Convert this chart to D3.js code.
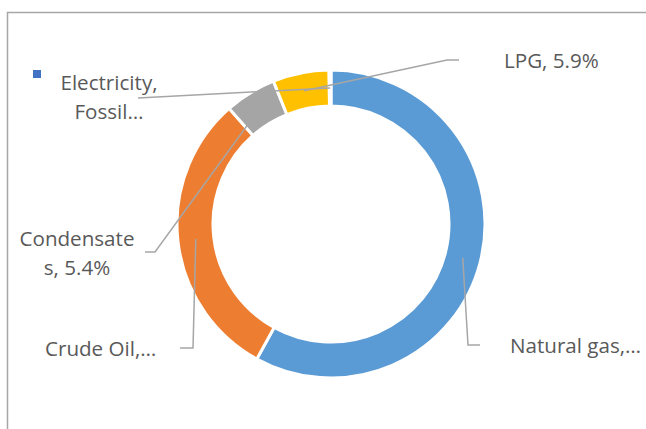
<!DOCTYPE html>
<html>
<head>
<meta charset="utf-8">
<script src="https://cdn.jsdelivr.net/npm/d3@7"></script>
<style>
  html, body { margin: 0; padding: 0; background: #fff; }
  svg { display: block; }
  text { font-family: "Open Sans", "Noto Sans", sans-serif; font-size: 20.6px; fill: #595959; }
</style>
</head>
<body>
<svg id="chart" width="646" height="429"></svg>
<script>
// ---- data ----
const categories = ["Natural gas", "Crude Oil", "Condensates", "LPG", "Electricity, Fossil"];
const shares = [58.0, 30.5, 5.4, 5.9, 0.2];
const colors = ["#5B9BD5", "#ED7D31", "#A5A5A5", "#FFC000", "#4472C4"];
const labelLines = [
  ["Natural gas,\u2026"],
  ["Crude Oil,\u2026"],
  ["Condensate", "s, 5.4%"],
  ["LPG, 5.9%"],
  ["Electricity,", "Fossil\u2026"]
];

// ---- layout (label placement, as in the reference) ----
const layout = [
  { x: 510, y: 353, anchor: "start", path: [[480, 345], [468, 345]] },
  { x: 45,  y: 356, anchor: "start", path: [[180, 348], [193, 348]] },
  { x: 77,  y: 246, anchor: "middle", path: [[145, 252], [155, 252]] },
  { x: 504, y: 68,  anchor: "start", path: [[459, 60], [447, 60]] },
  { x: 109, y: 90,  anchor: "middle", path: [[138, 98]], key: [33, 70] }
];
const lineGap = 29;

const svg = d3.select("#chart");
const cx = 331, cy = 224, rOuter = 154, rInner = 118;

// chart border (left + top visible)
svg.append("path")
  .attr("d", "M7.5,429 L7.5,12.5 L646,12.5")
  .attr("fill", "none").attr("stroke", "#A6A6A6").attr("stroke-width", 1.5);

const pie = d3.pie().sort(null).value(d => d)(shares);
const arc = d3.arc().innerRadius(rInner).outerRadius(rOuter);
const mid = d3.arc().innerRadius((rInner + rOuter) / 2).outerRadius((rInner + rOuter) / 2);

const g = svg.append("g").attr("transform", `translate(${cx},${cy})`);
g.selectAll("path.slice").data(pie).join("path")
  .attr("class", "slice")
  .attr("d", arc)
  .attr("fill", (d, i) => colors[i])
  .attr("stroke", "#fff").attr("stroke-width", 3).attr("stroke-linejoin", "miter");

// leader lines
pie.forEach((d, i) => {
  const c = mid.centroid(d);
  const pts = layout[i].path.concat([[cx + c[0], cy + c[1]]]);
  svg.append("path")
    .attr("d", d3.line()(pts))
    .attr("fill", "none").attr("stroke", "#A6A6A6").attr("stroke-width", 1.5);
});

// labels
labelLines.forEach((lines, i) => {
  const L = layout[i];
  const t = svg.append("text").attr("text-anchor", L.anchor);
  lines.forEach((s, k) => {
    t.append("tspan").attr("x", L.x).attr("y", L.y + k * lineGap).text(s);
  });
  if (L.key) {
    svg.append("rect").attr("x", L.key[0]).attr("y", L.key[1])
      .attr("width", 8).attr("height", 8).attr("fill", colors[i]);
  }
});
</script>
</body>
</html>
